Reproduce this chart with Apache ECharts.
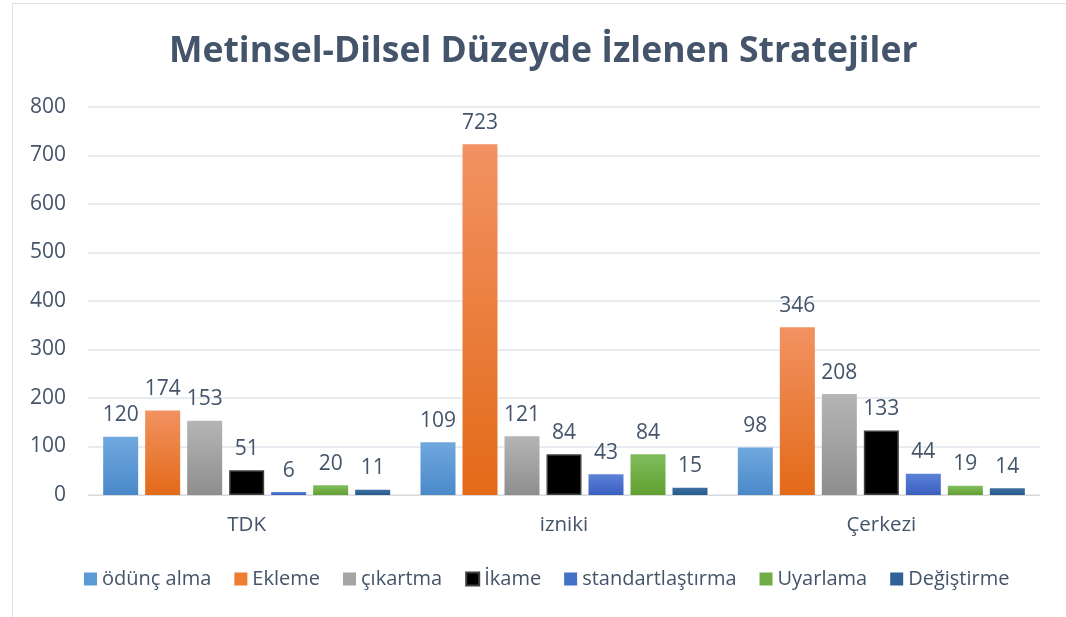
<!DOCTYPE html>
<html><head><meta charset="utf-8">
<script src="https://cdn.jsdelivr.net/npm/echarts@6/dist/echarts.min.js"></script>
<style>html,body{margin:0;padding:0;background:#fff}#c{width:1066px;height:617px}</style>
</head><body><div id="c"></div>
<script>
const categories = ['TDK', 'izniki', 'Çerkezi'];
const seriesNames = ['ödünç alma', 'Ekleme', 'çıkartma', 'İkame', 'standartlaştırma', 'Uyarlama', 'Değiştirme'];
const odunc = [120, 109, 98];
const ekleme = [174, 723, 346];
const cikartma = [153, 121, 208];
const ikame = [51, 84, 133];
const standart = [6, 43, 44];
const uyarlama = [20, 84, 19];
const degistirme = [11, 15, 14];
const yTicks = [0, 100, 200, 300, 400, 500, 600, 700, 800];

const values = [odunc, ekleme, cikartma, ikame, standart, uyarlama, degistirme];
const grads = [
  ['#70a8df', '#4a89c9'],
  ['#f29262', '#e36a18'],
  ['#b5b5b5', '#8e8e8e'],
  ['#000000', '#000000'],
  ['#5d82d8', '#3a5fbf'],
  ['#82bd5e', '#61a030'],
  ['#3d6d9f', '#255b8f']
];
const legendColors = ['#5b9bd5', '#ed7d31', '#a5a5a5', '#000000', '#4472c4', '#70ad47', '#2e6298'];
const txt = '#44546a';
const font = '"Open Sans", sans-serif';

const chart = echarts.init(document.getElementById('c'));
chart.setOption({
  animation: false,
  title: {
    text: 'Metinsel-Dilsel Düzeyde İzlenen Stratejiler',
    left: 164, top: 29,
    textStyle: { color: txt, fontSize: 35.5, fontWeight: 'bold', fontFamily: font }
  },
  legend: {
    bottom: 23, left: 79,
    itemWidth: 13, itemHeight: 13, itemGap: 23,
    icon: 'rect',
    textStyle: { color: txt, fontSize: 20, fontFamily: font },
    data: seriesNames.map((n, i) => ({ name: n, itemStyle: { color: legendColors[i] } }))
  },
  grid: { left: 88, right: 26, top: 107, bottom: 122 },
  xAxis: {
    type: 'category', data: categories,
    axisLine: { lineStyle: { color: '#d9d9d9', width: 1 } },
    axisTick: { show: false },
    axisLabel: { color: txt, fontSize: 20.5, fontFamily: font, margin: 20 }
  },
  yAxis: {
    type: 'value', min: yTicks[0], max: yTicks[yTicks.length - 1], interval: 100,
    axisLine: { show: false }, axisTick: { show: false },
    splitLine: { lineStyle: { color: '#e1e4ea', width: 1.5 } },
    axisLabel: { color: txt, fontSize: 21, fontFamily: font, margin: 22 }
  },
  series: values.map((v, i) => ({
    name: seriesNames[i], type: 'bar', data: v,
    barWidth: 35, barGap: '20%',
    itemStyle: {
      color: new echarts.graphic.LinearGradient(0, 0, 0, 1, [
        { offset: 0, color: grads[i][0] }, { offset: 1, color: grads[i][1] }
      ]),
      borderColor: i === 3 ? '#404040' : 'transparent',
      borderWidth: i === 3 ? 1.5 : 0
    },
    label: {
      show: true, position: 'top', distance: 11,
      color: txt, fontSize: 21, fontFamily: font
    }
  }))
});
</script>
<div style="position:absolute;left:12px;top:3px;width:1100px;height:700px;border-left:1.5px solid #dde2e8;border-top:1.5px solid #dde2e8;pointer-events:none"></div>
</body></html>
